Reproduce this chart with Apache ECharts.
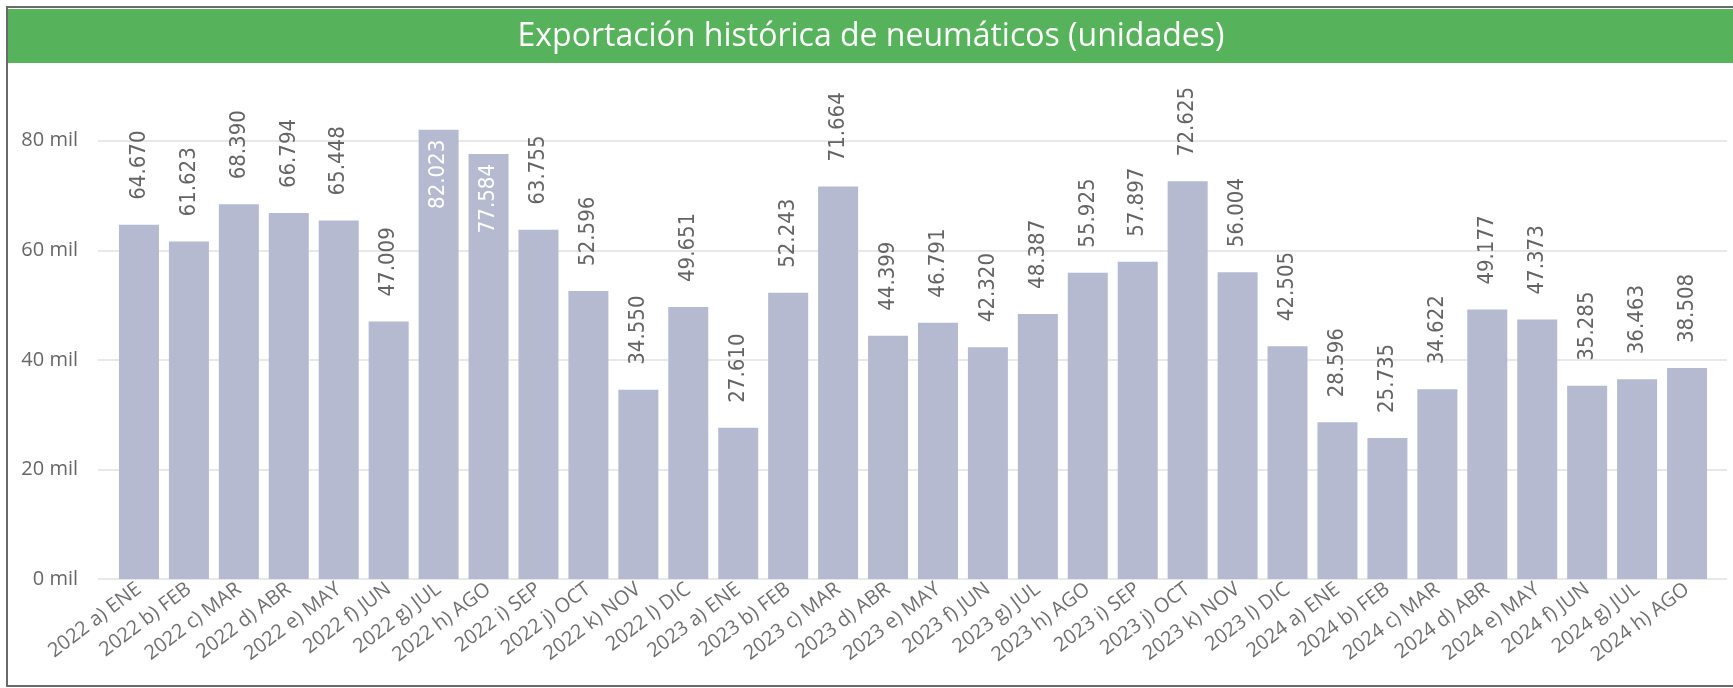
<!DOCTYPE html>
<html>
<head>
<meta charset="utf-8">
<script src="https://cdn.jsdelivr.net/npm/echarts@6/dist/echarts.min.js"></script>
<style>
  html, body { margin: 0; padding: 0; background: #fff; }
  #chart { width: 1733px; height: 688px; }
</style>
</head>
<body>
<div id="chart"></div>
<script>
var titleText = 'Exportación histórica de neumáticos (unidades)';

var categories = [
  '2022 a) ENE', '2022 b) FEB', '2022 c) MAR', '2022 d) ABR', '2022 e) MAY', '2022 f) JUN',
  '2022 g) JUL', '2022 h) AGO', '2022 i) SEP', '2022 j) OCT', '2022 k) NOV', '2022 l) DIC',
  '2023 a) ENE', '2023 b) FEB', '2023 c) MAR', '2023 d) ABR', '2023 e) MAY', '2023 f) JUN',
  '2023 g) JUL', '2023 h) AGO', '2023 i) SEP', '2023 j) OCT', '2023 k) NOV', '2023 l) DIC',
  '2024 a) ENE', '2024 b) FEB', '2024 c) MAR', '2024 d) ABR', '2024 e) MAY', '2024 f) JUN',
  '2024 g) JUL', '2024 h) AGO'
];

var values = [
  64670, 61623, 68390, 66794, 65448, 47009, 82023, 77584, 63755, 52596, 34550, 49651,
  27610, 52243, 71664, 44399, 46791, 42320, 48387, 55925, 57897, 72625, 56004, 42505,
  28596, 25735, 34622, 49177, 47373, 35285, 36463, 38508
];

// bars whose label sits inside (no room above)
var insideLabels = ['2022 g) JUL', '2022 h) AGO'];

var yMin = 0, yMax = 90000, yStep = 20000;

function fmtNum (v) {
  var k = Math.floor(v / 1000);
  var r = String(v % 1000);
  while (r.length < 3) r = '0' + r;
  return k + '.' + r;
}

var labelFont = "'Liberation Sans Narrow', 'DejaVu Sans Condensed', sans-serif";
var uiFont = "'Segoe UI', 'Open Sans', sans-serif";

var barData = values.map(function (v, i) {
  var item = { value: v };
  if (insideLabels.indexOf(categories[i]) >= 0) {
    item.label = {
      position: 'insideTop',
      distance: 10,
      align: 'right',
      color: '#ffffff'
    };
  }
  return item;
});

var chart = echarts.init(document.getElementById('chart'));

var option = {
  animation: false,
  graphic: [
    {
      type: 'rect',
      shape: { x: 7, y: 7, width: 1800, height: 679 },
      style: { fill: 'none', stroke: '#6a6a6a', lineWidth: 2 },
      z: 10
    },
    {
      type: 'rect',
      shape: { x: 8, y: 9, width: 1725, height: 54 },
      style: { fill: '#56b25b' },
      z: 11
    },
    {
      type: 'text',
      x: 871,
      y: 37,
      style: {
        text: titleText,
        fill: '#ffffff',
        font: '32px ' + uiFont,
        align: 'center',
        verticalAlign: 'middle'
      },
      z: 12
    }
  ],
  grid: [
    { left: 114, right: 21, top: 86, bottom: 109 },
    { left: 98, right: 6, top: 86, bottom: 109 }
  ],
  xAxis: [
    {
      type: 'category',
      gridIndex: 0,
      data: categories,
      axisLine: { show: false },
      axisTick: { show: false },
      axisLabel: {
        rotate: 37,
        margin: 8,
        interval: 0,
        color: '#6f6f6f',
        fontSize: 20,
        fontFamily: uiFont
      }
    },
    {
      type: 'category',
      gridIndex: 1,
      data: ['x'],
      show: false
    }
  ],
  yAxis: [
    {
      type: 'value',
      gridIndex: 0,
      min: yMin,
      max: yMax,
      interval: yStep,
      show: false,
      splitLine: { show: false }
    },
    {
      type: 'value',
      gridIndex: 1,
      min: yMin,
      max: yMax,
      interval: yStep,
      axisLine: { show: false },
      axisTick: { show: false },
      axisLabel: {
        showMaxLabel: false,
        margin: 20,
        color: '#666666',
        fontSize: 20,
        fontFamily: uiFont,
        formatter: function (v) { return (v / 1000) + ' mil'; }
      },
      splitLine: {
        showMaxLine: false,
        lineStyle: { color: '#e8e8e8', width: 2 }
      }
    }
  ],
  series: [
    {
      type: 'bar',
      xAxisIndex: 0,
      yAxisIndex: 0,
      data: barData,
      barWidth: 40,
      itemStyle: { color: '#b5bad0' },
      label: {
        show: true,
        position: 'top',
        distance: 25,
        rotate: 90,
        align: 'left',
        verticalAlign: 'middle',
        color: '#646464',
        fontSize: 22,
        fontFamily: labelFont,
        formatter: function (p) { return fmtNum(p.value); }
      },
      z: 3
    }
  ]
};

chart.setOption(option);
</script>
</body>
</html>
